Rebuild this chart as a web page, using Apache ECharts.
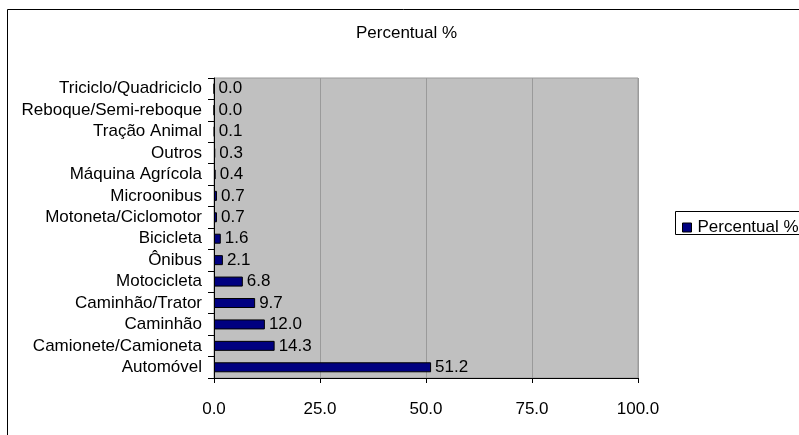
<!DOCTYPE html>
<html>
<head>
<meta charset="utf-8">
<script src="https://cdn.jsdelivr.net/npm/echarts@6/dist/echarts.min.js"></script>
<style>
  html, body { margin: 0; padding: 0; background: #ffffff; }
  #chart { width: 799px; height: 435px; }
</style>
</head>
<body>
<div id="chart"></div>
<script>
// Vehicle types, listed bottom to top on the category axis
const categories = [
  'Automóvel', 'Camionete/Camioneta', 'Caminhão', 'Caminhão/Trator',
  'Motocicleta', 'Ônibus', 'Bicicleta', 'Motoneta/Ciclomotor',
  'Microonibus', 'Máquina Agrícola', 'Outros', 'Tração Animal',
  'Reboque/Semi-reboque', 'Triciclo/Quadriciclo'
];
// Share of each vehicle type, in percent
const percentual = [51.2, 14.3, 12.0, 9.7, 6.8, 2.1, 1.6, 0.7, 0.7, 0.4, 0.3, 0.1, 0.0, 0.0];
const seriesName = 'Percentual %';
const xTicks = [0, 25, 50, 75, 100];

const FONT = 'Liberation Sans, Arial, sans-serif';
const FS = 17;
const chart = echarts.init(document.getElementById('chart'), null, { renderer: 'canvas' });

chart.setOption({
  animation: false,
  backgroundColor: '#ffffff',
  title: {
    text: seriesName,
    left: 356, top: 25, padding: 0,
    textStyle: { fontFamily: FONT, fontSize: FS, fontWeight: 'normal', color: '#000' }
  },
  graphic: [
    {
      // outer chart frame (runs off the right and bottom edges)
      type: 'rect',
      shape: { x: 7.5, y: 9.5, width: 900, height: 600 },
      style: { fill: 'none', stroke: '#000', lineWidth: 1 },
      z: -10
    },
    {
      // legend frame
      type: 'rect',
      shape: { x: 675.5, y: 211.5, width: 200, height: 23 },
      style: { fill: '#fff', stroke: '#000', lineWidth: 1 },
      z: -5
    }
  ],
  legend: {
    left: 682, top: 219,
    orient: 'vertical',
    data: [{ name: seriesName, icon: 'rect' }],
    itemWidth: 9, itemHeight: 9,
    itemGap: 0,
    padding: 0,
    borderWidth: 0,
    textStyle: { fontFamily: FONT, fontSize: FS, color: '#000', padding: [0, 0, 0, 1] },
    itemStyle: { borderColor: '#000', borderWidth: 1 }
  },
  grid: {
    left: 214, top: 78, right: 161, bottom: 57,
    show: true, backgroundColor: '#c0c0c0', borderColor: '#9a9a9a', borderWidth: 1
  },
  xAxis: {
    type: 'value',
    min: xTicks[0], max: xTicks[xTicks.length - 1], interval: 25,
    axisLine: { show: true, lineStyle: { color: '#000', width: 1 } },
    axisTick: { show: true, length: 5, lineStyle: { color: '#000' } },
    axisLabel: {
      fontFamily: FONT, fontSize: FS, color: '#000', margin: 23,
      formatter: v => v.toFixed(1)
    },
    splitLine: { show: true, lineStyle: { color: '#9a9a9a', width: 1 } }
  },
  yAxis: {
    type: 'category',
    data: categories,
    axisLine: { show: true, lineStyle: { color: '#000', width: 1 } },
    axisTick: { show: true, length: 6, lineStyle: { color: '#000' } },
    axisLabel: { fontFamily: FONT, fontSize: FS, color: '#000', margin: 12, interval: 0 },
    splitLine: { show: false }
  },
  series: [{
    name: seriesName,
    type: 'bar',
    data: percentual,
    barWidth: 10,
    itemStyle: { color: '#000080', borderColor: '#000', borderWidth: 1 },
    label: {
      show: true, position: 'right', distance: 4,
      fontFamily: FONT, fontSize: FS, color: '#000',
      formatter: p => p.value.toFixed(1)
    }
  }]
});
</script>
</body>
</html>
